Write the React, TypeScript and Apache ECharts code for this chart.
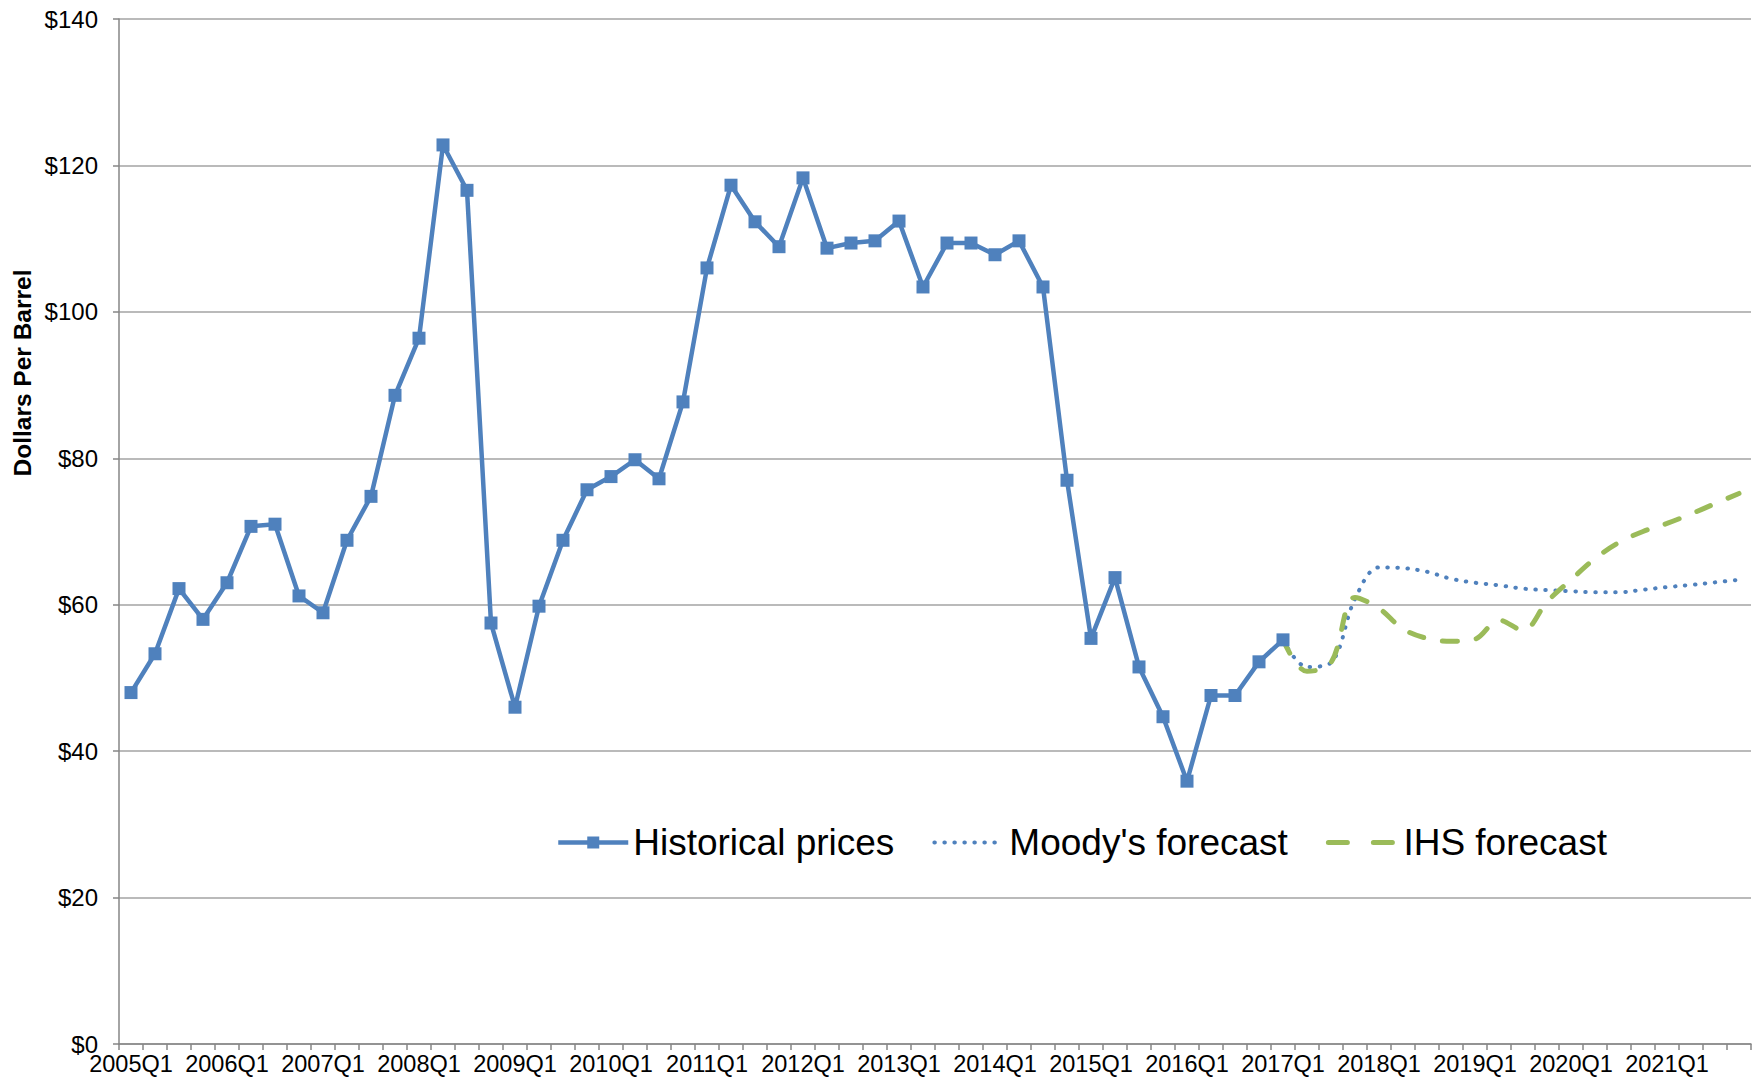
import React, { useEffect, useRef } from "react";
import * as echarts from "echarts";

const quarters = [
  "2005Q1", "2005Q2", "2005Q3", "2005Q4",
  "2006Q1", "2006Q2", "2006Q3", "2006Q4",
  "2007Q1", "2007Q2", "2007Q3", "2007Q4",
  "2008Q1", "2008Q2", "2008Q3", "2008Q4",
  "2009Q1", "2009Q2", "2009Q3", "2009Q4",
  "2010Q1", "2010Q2", "2010Q3", "2010Q4",
  "2011Q1", "2011Q2", "2011Q3", "2011Q4",
  "2012Q1", "2012Q2", "2012Q3", "2012Q4",
  "2013Q1", "2013Q2", "2013Q3", "2013Q4",
  "2014Q1", "2014Q2", "2014Q3", "2014Q4",
  "2015Q1", "2015Q2", "2015Q3", "2015Q4",
  "2016Q1", "2016Q2", "2016Q3", "2016Q4",
  "2017Q1", "2017Q2", "2017Q3", "2017Q4",
  "2018Q1", "2018Q2", "2018Q3", "2018Q4",
  "2019Q1", "2019Q2", "2019Q3", "2019Q4",
  "2020Q1", "2020Q2", "2020Q3", "2020Q4",
  "2021Q1", "2021Q2", "2021Q3", "2021Q4",
];

const historicalPrices = [
  48.0, 53.3, 62.2, 58.0,
  63.0, 70.7, 71.0, 61.2,
  58.9, 68.8, 74.8, 88.6,
  96.4, 122.8, 116.6, 57.5,
  46.0, 59.8, 68.8, 75.7,
  77.5, 79.8, 77.2, 87.7,
  106.0, 117.3, 112.3, 108.9,
  118.3, 108.7, 109.4, 109.7,
  112.4, 103.4, 109.4, 109.4,
  107.8, 109.7, 103.4, 77.0,
  55.4, 63.7, 51.5, 44.7,
  35.9, 47.6, 47.6, 52.2,
  55.2,
];

const forecastQuarters = [
  "2017Q1", "2017Q2", "2017Q3", "2017Q4",
  "2018Q1", "2018Q2", "2018Q3", "2018Q4",
  "2019Q1", "2019Q2", "2019Q3", "2019Q4",
  "2020Q1", "2020Q2", "2020Q3", "2020Q4",
  "2021Q1", "2021Q2", "2021Q3", "2021Q4",
];

const moodysForecast = [
  55.2, 51.5, 52.1, 60.8,
  65.1, 65.0, 64.5, 63.55,
  63.0, 62.65, 62.2, 62.0,
  61.85, 61.7, 61.7, 62.05,
  62.4, 62.7, 63.05, 63.4,
];

const ihsForecast = [
  55.2, 50.9, 52.1, 61.0,
  59.5, 56.7, 55.4, 55.0,
  55.3, 57.9, 56.5, 60.4,
  63.4, 66.3, 68.5, 70.0,
  71.1, 72.4, 73.8, 75.2,
];

const yTicks = { min: 0, max: 140, interval: 20 };

const BLUE = "#4F81BD";
const GREEN = "#9BBB59";
const AXIS_GRAY = "#868686";
const GRID_GRAY = "#A3A3A3";
const FONT = "'Liberation Sans', Arial, sans-serif";

export default function App() {
  const ref = useRef<HTMLDivElement>(null);

  useEffect(() => {
    if (!ref.current) return;
    const chart = echarts.init(ref.current, undefined, { renderer: "svg" });
    const option = {
      animation: false,
      backgroundColor: "#ffffff",
      textStyle: { fontFamily: FONT, color: "#000" },
      grid: { left: 119, right: 11, top: 19, bottom: 41, containLabel: false },
      xAxis: {
        type: "category",
        data: quarters,
        boundaryGap: true,
        axisLine: { show: true, lineStyle: { color: AXIS_GRAY, width: 1.5 } },
        axisTick: { show: true, interval: 0, length: 6, lineStyle: { color: AXIS_GRAY, width: 1.5 } },
        axisLabel: { interval: 3, fontSize: 23.5, color: "#000", margin: 8, fontFamily: FONT },
        splitLine: { show: false },
      },
      yAxis: {
        type: "value",
        min: yTicks.min,
        max: yTicks.max,
        interval: yTicks.interval,
        axisLine: { show: true, lineStyle: { color: AXIS_GRAY, width: 1.5 } },
        axisTick: { show: true, length: 6, lineStyle: { color: AXIS_GRAY, width: 1.5 } },
        axisLabel: {
          formatter: (v: number) => "$" + v,
          fontSize: 24,
          color: "#000",
          margin: 21,
          fontFamily: FONT,
        },
        splitLine: { show: true, lineStyle: { color: GRID_GRAY, width: 1.5 } },
      },
      legend: {
        left: 551,
        top: 819,
        itemWidth: 70,
        itemHeight: 15,
        itemGap: 38,
        textStyle: { fontSize: 37, color: "#000", fontFamily: FONT },
        data: [
          { name: "Historical prices", lineStyle: { width: 4.5 } },
          { name: "Moody's forecast", itemStyle: { opacity: 0 }, lineStyle: { width: 4 } },
          {
            name: "IHS forecast",
            itemStyle: { opacity: 0 },
            lineStyle: { width: 5, type: [19, 26], cap: "round" },
          },
        ],
      },
      graphic: [
        {
          type: "text",
          x: 22,
          y: 373,
          rotation: Math.PI / 2,
          style: {
            text: "Dollars Per Barrel",
            fill: "#000",
            font: `bold 24.5px ${FONT}`,
            align: "center",
            verticalAlign: "middle",
          },
        },
      ],
      series: [
        {
          name: "Moody's forecast",
          type: "line",
          data: forecastQuarters.map((q, i) => [q, moodysForecast[i]]),
          smooth: 0.35,
          symbol: "none",
          lineStyle: { color: BLUE, width: 4, type: [0.5, 9.5], cap: "round" },
          itemStyle: { color: BLUE },
          z: 2,
        },
        {
          name: "IHS forecast",
          type: "line",
          data: forecastQuarters.map((q, i) => [q, ihsForecast[i]]),
          smooth: 0.35,
          symbol: "none",
          lineStyle: { color: GREEN, width: 5, type: [15, 19], cap: "round" },
          itemStyle: { color: GREEN },
          z: 3,
        },
        {
          name: "Historical prices",
          type: "line",
          data: historicalPrices,
          symbol: "rect",
          symbolSize: 13,
          showAllSymbol: true,
          lineStyle: { color: BLUE, width: 4.5 },
          itemStyle: { color: BLUE },
          z: 4,
        },
      ],
    };
    chart.setOption(option as any);
    return () => {
      chart.dispose();
    };
  }, []);

  return (
    <div
      ref={ref}
      style={{ position: "fixed", left: 0, top: 0, width: 1762, height: 1085, background: "#fff" }}
    />
  );
}
